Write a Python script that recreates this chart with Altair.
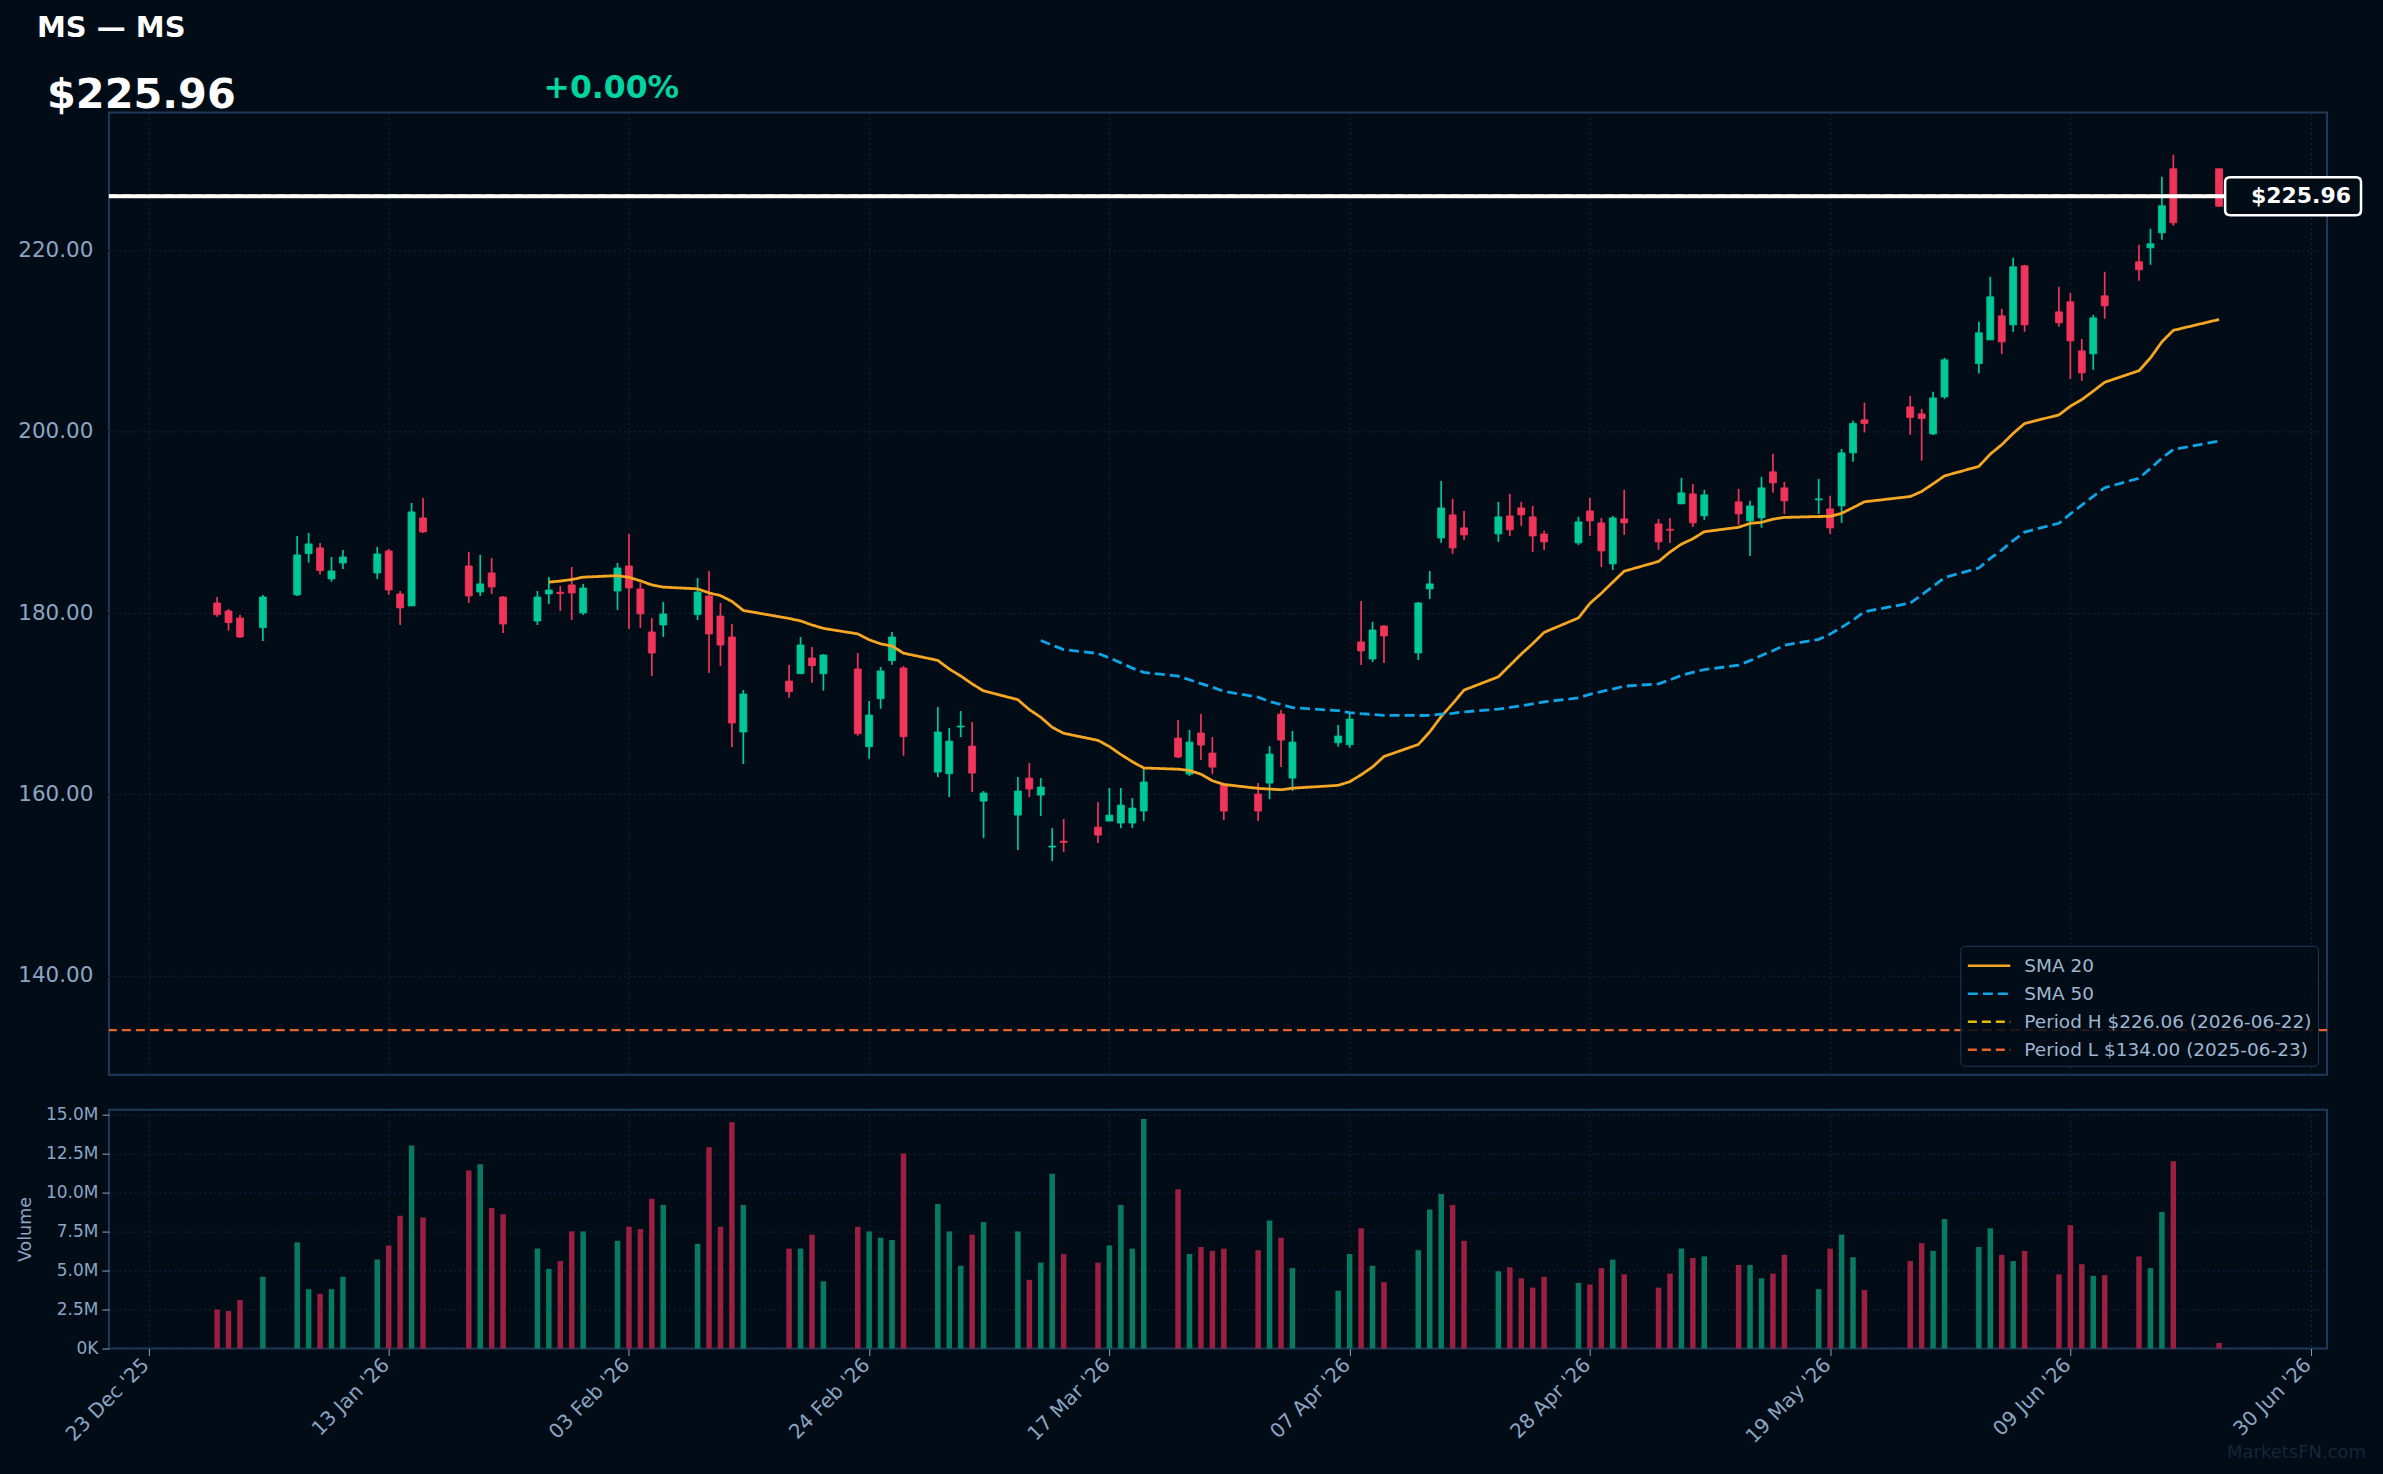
import altair as alt
import pandas as pd

# ---------------- data ----------------
dates = [
    "2025-12-29", "2025-12-30", "2025-12-31", "2026-01-02",
    "2026-01-05", "2026-01-06", "2026-01-07", "2026-01-08", "2026-01-09",
    "2026-01-12", "2026-01-13", "2026-01-14", "2026-01-15", "2026-01-16",
    "2026-01-20", "2026-01-21", "2026-01-22", "2026-01-23",
    "2026-01-26", "2026-01-27", "2026-01-28", "2026-01-29", "2026-01-30",
    "2026-02-02", "2026-02-03", "2026-02-04", "2026-02-05", "2026-02-06",
    "2026-02-09", "2026-02-10", "2026-02-11", "2026-02-12", "2026-02-13",
    "2026-02-17", "2026-02-18", "2026-02-19", "2026-02-20",
    "2026-02-23", "2026-02-24", "2026-02-25", "2026-02-26", "2026-02-27",
    "2026-03-02", "2026-03-03", "2026-03-04", "2026-03-05", "2026-03-06",
    "2026-03-09", "2026-03-10", "2026-03-11", "2026-03-12", "2026-03-13",
    "2026-03-16", "2026-03-17", "2026-03-18", "2026-03-19", "2026-03-20",
    "2026-03-23", "2026-03-24", "2026-03-25", "2026-03-26", "2026-03-27",
    "2026-03-30", "2026-03-31", "2026-04-01", "2026-04-02",
    "2026-04-06", "2026-04-07", "2026-04-08", "2026-04-09", "2026-04-10",
    "2026-04-13", "2026-04-14", "2026-04-15", "2026-04-16", "2026-04-17",
    "2026-04-20", "2026-04-21", "2026-04-22", "2026-04-23", "2026-04-24",
    "2026-04-27", "2026-04-28", "2026-04-29", "2026-04-30", "2026-05-01",
    "2026-05-04", "2026-05-05", "2026-05-06", "2026-05-07", "2026-05-08",
    "2026-05-11", "2026-05-12", "2026-05-13", "2026-05-14", "2026-05-15",
    "2026-05-18", "2026-05-19", "2026-05-20", "2026-05-21", "2026-05-22",
    "2026-05-26", "2026-05-27", "2026-05-28", "2026-05-29",
    "2026-06-01", "2026-06-02", "2026-06-03", "2026-06-04", "2026-06-05",
    "2026-06-08", "2026-06-09", "2026-06-10", "2026-06-11", "2026-06-12",
    "2026-06-15", "2026-06-16", "2026-06-17", "2026-06-18",
    "2026-06-22",
]
opens = [
    181.11, 180.23, 179.45, 178.39,
    182.00, 186.55, 187.18, 183.76, 185.52,
    184.42, 186.85, 182.10, 180.78, 190.49,
    185.19, 182.32, 184.42, 181.77,
    179.12, 182.10, 182.29, 183.10, 180.01,
    182.43, 185.19, 182.65, 177.91, 178.68,
    179.82, 181.88, 179.67, 177.36, 166.88,
    172.50, 173.31, 175.04, 173.31,
    173.83, 165.26, 170.55, 174.75, 173.94,
    162.46, 162.28, 167.43, 165.33, 159.26,
    157.72, 161.80, 159.92, 154.19, 154.85,
    156.39, 157.06, 156.84, 156.84, 158.16,
    166.21, 162.24, 166.77, 164.56, 161.03,
    160.04, 161.25, 168.86, 161.80,
    165.70, 165.48, 176.81, 174.93, 178.57,
    175.60, 182.66, 188.28, 190.82, 189.39,
    188.72, 190.71, 191.59, 190.60, 188.72,
    187.73, 191.26, 189.94, 185.42, 190.38,
    189.83, 189.24, 192.04, 193.14, 190.71,
    192.26, 190.16, 190.49, 195.57, 193.80,
    192.48, 191.48, 191.81, 197.66, 201.30,
    202.73, 201.96, 199.75, 203.83,
    207.51, 210.12, 212.77, 211.78, 218.29,
    213.21, 214.32, 208.91, 208.58, 214.98,
    218.73, 220.27, 221.93, 228.99,
    228.99,
]
highs = [
    181.77, 180.45, 179.79, 182.00,
    188.50, 188.83, 187.73, 186.18, 186.96,
    187.29, 187.07, 182.43, 192.14, 192.69,
    186.74, 186.41, 186.07, 181.88,
    182.43, 183.98, 182.98, 185.08, 183.21,
    185.52, 188.72, 183.32, 179.45, 181.22,
    183.87, 184.64, 181.11, 178.79, 171.51,
    174.27, 177.36, 176.26, 175.48,
    175.59, 170.30, 174.05, 177.91, 174.16,
    169.63, 167.32, 169.19, 167.98, 160.37,
    161.91, 163.46, 161.80, 156.28, 157.28,
    159.15, 160.70, 160.70, 159.59, 162.79,
    168.20, 167.10, 168.86, 166.32, 161.14,
    161.25, 165.33, 169.30, 166.99,
    167.65, 168.98, 181.33, 179.02, 178.68,
    181.22, 184.64, 194.57, 192.59, 191.26,
    192.26, 193.14, 192.26, 191.81, 189.06,
    190.60, 192.70, 190.49, 190.71, 193.58,
    190.38, 190.49, 194.90, 194.24, 193.58,
    193.69, 192.37, 195.01, 197.55, 194.46,
    194.79, 192.92, 198.10, 201.20, 203.20,
    203.94, 202.51, 204.39, 208.14,
    212.11, 217.07, 213.54, 219.17, 218.40,
    215.97, 215.31, 210.23, 212.88, 217.63,
    220.60, 222.37, 228.11, 230.53,
    229.00,
]
lows = [
    179.60, 178.06, 177.25, 176.92,
    181.88, 185.56, 184.24, 183.46, 184.86,
    183.76, 182.00, 178.68, 180.78, 188.83,
    181.11, 181.88, 182.10, 177.80,
    178.68, 181.00, 180.23, 179.23, 179.79,
    180.34, 178.24, 178.35, 173.06, 177.36,
    179.23, 173.39, 174.16, 165.22, 163.35,
    170.66, 173.31, 172.32, 171.44,
    166.47, 163.93, 169.45, 174.30, 164.26,
    161.91, 159.70, 166.32, 160.26, 155.18,
    153.86, 159.70, 157.61, 152.64, 153.64,
    154.63, 157.06, 156.28, 156.28, 157.06,
    164.01, 162.02, 163.79, 162.24, 157.17,
    157.06, 159.48, 163.01, 160.37,
    165.26, 165.15, 174.27, 174.60, 174.49,
    174.82, 181.55, 187.73, 186.52, 188.06,
    187.84, 188.50, 189.61, 186.74, 186.96,
    187.51, 188.50, 185.08, 184.75, 188.61,
    186.96, 187.73, 192.04, 189.50, 190.27,
    189.72, 186.30, 189.39, 193.25, 190.93,
    190.93, 188.72, 189.94, 196.67, 199.90,
    199.64, 196.81, 199.64, 203.61,
    206.41, 210.12, 208.58, 211.01, 211.01,
    211.56, 205.82, 205.60, 206.81, 212.44,
    216.63, 218.40, 221.16, 222.70,
    224.85,
]
closes = [
    179.82, 178.94, 177.36, 181.77,
    186.41, 187.62, 184.68, 184.64, 186.18,
    186.52, 182.54, 180.56, 191.15, 188.94,
    181.88, 183.21, 182.87, 178.79,
    181.77, 182.54, 182.14, 182.21, 182.76,
    184.97, 182.76, 179.90, 175.59, 179.90,
    182.32, 177.69, 176.47, 167.87, 171.07,
    171.33, 176.48, 174.19, 175.37,
    166.69, 168.75, 173.61, 177.36, 166.36,
    166.88, 165.88, 167.54, 162.35, 160.15,
    160.37, 160.59, 160.81, 154.30, 154.70,
    155.51, 157.72, 158.82, 158.49, 161.36,
    164.12, 165.77, 165.44, 163.01, 158.16,
    158.16, 164.45, 165.99, 165.77,
    166.44, 168.31, 175.82, 178.13, 177.47,
    181.11, 183.21, 191.59, 187.18, 188.61,
    190.60, 189.17, 190.82, 188.50, 187.84,
    190.05, 190.16, 186.85, 190.49, 189.94,
    187.84, 189.13, 193.25, 189.94, 193.03,
    190.93, 191.81, 193.80, 194.35, 192.37,
    192.59, 189.39, 197.66, 200.90, 200.90,
    201.55, 201.44, 203.72, 207.92,
    210.90, 214.87, 209.90, 218.18, 211.78,
    212.00, 210.01, 206.48, 212.55, 213.87,
    217.85, 220.72, 224.91, 223.03,
    224.85,
]
volumes_m = [
    2.5, 2.4, 3.1, 4.6,
    6.8, 3.8, 3.5, 3.8, 4.6,
    5.7, 6.6, 8.5, 13.0, 8.4,
    11.4, 11.8, 9.0, 8.6,
    6.4, 5.1, 5.6, 7.5, 7.5,
    6.9, 7.8, 7.65, 9.6, 9.2,
    6.7, 12.9, 7.8, 14.5, 9.2,
    6.4, 6.4, 7.3, 4.3,
    7.8, 7.5, 7.1, 6.95, 12.5,
    9.25, 7.5, 5.3, 7.3, 8.1,
    7.5, 4.4, 5.5, 11.2, 6.05,
    5.5, 6.6, 9.2, 6.4, 14.7,
    10.2, 6.05, 6.5, 6.25, 6.4,
    6.3, 8.2, 7.1, 5.15,
    3.7, 6.05, 7.7, 5.3, 4.25,
    6.3, 8.9, 9.9, 9.2, 6.9,
    4.95, 5.2, 4.5, 3.9, 4.6,
    4.2, 4.1, 5.15, 5.7, 4.75,
    3.9, 4.8, 6.4, 5.8, 5.9,
    5.35, 5.35, 4.5, 4.8, 6.0,
    3.8, 6.4, 7.3, 5.85, 3.75,
    5.6, 6.75, 6.25, 8.3,
    6.5, 7.7, 6.0, 5.6, 6.25,
    4.75, 7.9, 5.4, 4.65, 4.7,
    5.9, 5.15, 8.75, 12.0,
    0.35,
]

ticker_title = "MS — MS"
last_price = 225.96
change_text = "+0.00%"
period_high = 226.06
period_low = 134.00
series_names = [
    "SMA 20",
    "SMA 50",
    "Period H $226.06 (2026-06-22)",
    "Period L $134.00 (2025-06-23)",
]
tick_dates = [
    (2025, 12, 23), (2026, 1, 13), (2026, 2, 3), (2026, 2, 24), (2026, 3, 17),
    (2026, 4, 7), (2026, 4, 28), (2026, 5, 19), (2026, 6, 9), (2026, 6, 30),
]
price_ticks = [140, 160, 180, 200, 220]
volume_ticks = [0, 2.5, 5, 7.5, 10, 12.5, 15]
watermark = "MarketsFN.com"

# ---------------- styling ----------------
BG = "#020c17"
FRAME = "#1e3a5a"
GRID = "#17273a"
LABEL = "#8ca5c3"
LEGEND_LABEL = "#9fb6d2"
UP = "#00c896"
DOWN = "#f0345a"
VOL_UP = "#087a5f"
VOL_DOWN = "#9b2040"
SERIES_COLORS = ["#f5a623", "#0ea5e9", "#e5bd00", "#e8622c"]
SERIES_DASH = [[1, 0], [10, 5], [9, 5], [9, 5]]
FONT = "DejaVu Sans"

W = 2220
H_PRICE = 963
H_VOL = 239

df = pd.DataFrame({
    "date": dates, "open": opens, "high": highs, "low": lows,
    "close": closes, "volume": volumes_m,
})

x_domain = [
    alt.DateTime(year=2025, month=12, date=19, hours=23, minutes=30, utc=True),
    alt.DateTime(year=2026, month=7, date=1, utc=True),
]
tick_vals = [alt.DateTime(year=y, month=m, date=d, utc=True) for (y, m, d) in tick_dates]
x_scale = alt.Scale(type="utc", domain=x_domain, nice=False)

y_price_scale = alt.Scale(domain=[129.09, 235.19], nice=False, zero=False)
y_vol_scale = alt.Scale(domain=[0, 15.3], nice=False, zero=True)

x_price = alt.X(
    "date:T", scale=x_scale, title=None,
    axis=alt.Axis(values=tick_vals, labels=False, ticks=False, domain=False,
                  grid=True, gridColor=GRID, gridDash=[2, 3], gridWidth=1),
)

candle_color = alt.when(alt.datum.close >= alt.datum.open).then(alt.value(UP)).otherwise(alt.value(DOWN))
vol_color = alt.when(alt.datum.close >= alt.datum.open).then(alt.value(VOL_UP)).otherwise(alt.value(VOL_DOWN))

base = alt.Chart(df)

y_axis_price = alt.Axis(
    values=price_ticks, format=".2f", title=None, grid=True, gridColor=GRID,
    gridDash=[2, 3], gridWidth=1, tickSize=7, tickColor="#05080c", labelPadding=9,
    labelFontSize=21.5, labelColor=LABEL, labelFont=FONT, domain=False,
)

wicks = base.mark_rule(strokeWidth=1.7).encode(
    x=x_price,
    y=alt.Y("low:Q", scale=y_price_scale, axis=y_axis_price),
    y2="high:Q",
    color=candle_color,
)
bodies = base.mark_bar(size=7, strokeWidth=0.8).encode(
    x=alt.X("date:T", scale=x_scale),
    y=alt.Y("open:Q", scale=y_price_scale),
    y2="close:Q",
    color=candle_color,
    stroke=candle_color,
)

legend = alt.Legend(
    title=None, orient="bottom-right", offset=9,
    symbolType="M-1,0 L2.4,0", symbolSize=625, symbolStrokeWidth=2.6,
    symbolFillColor="transparent",
    labelFontSize=18.5, labelColor=LEGEND_LABEL, labelFont=FONT, labelOffset=30,
    labelLimit=500, rowPadding=4, padding=6,
    fillColor="rgba(2,12,23,0.88)", strokeColor=FRAME, cornerRadius=4,
)
color_enc = alt.Color("series:N", scale=alt.Scale(domain=series_names, range=SERIES_COLORS), legend=legend)
dash_enc = alt.StrokeDash("series:N", scale=alt.Scale(domain=series_names, range=SERIES_DASH), legend=legend)

period_df = pd.DataFrame({"series": series_names[2:], "value": [period_high, period_low]})
period_rules = alt.Chart(period_df).mark_rule(strokeWidth=2.2).encode(
    y=alt.Y("value:Q", scale=y_price_scale),
    color=color_enc,
    strokeDash=dash_enc,
)

sort_date = [alt.SortField("date")]
sma = (
    base.transform_window(rn="row_number()", sort=sort_date)
    .transform_window(s20="mean(close)", frame=[-19, 0], sort=sort_date)
    .transform_window(s50="mean(close)", frame=[-49, 0], sort=sort_date)
    .transform_calculate(**{
        "SMA 20": "datum.rn >= 20 ? datum.s20 : null",
        "SMA 50": "datum.rn >= 50 ? datum.s50 : null",
    })
    .transform_fold(["SMA 20", "SMA 50"], as_=["series", "value"])
    .transform_filter("datum.value != null")
    .mark_line(strokeWidth=2.8)
    .encode(
        x=alt.X("date:T", scale=x_scale),
        y=alt.Y("value:Q", scale=y_price_scale),
        color=color_enc,
        strokeDash=dash_enc,
    )
)

last_df = pd.DataFrame({"p": [last_price], "label": [f"${last_price:.2f}"]})
last_line = alt.Chart(last_df).mark_rule(color="white", strokeWidth=4).encode(
    y=alt.Y("p:Q", scale=y_price_scale)
)
BOX = ("M-0.926,-0.279 L0.926,-0.279 Q1,-0.279 1,-0.206 L1,0.206 Q1,0.279 0.926,0.279 "
       "L-0.926,0.279 Q-1,0.279 -1,0.206 L-1,-0.206 Q-1,-0.279 -0.926,-0.279 Z")
last_box = alt.Chart(last_df).mark_point(
    shape=BOX, size=136 * 136, filled=True, fill=BG, stroke="white",
    strokeWidth=2.5, opacity=1, fillOpacity=1, strokeOpacity=1,
).encode(x=alt.value(W - 34), y=alt.Y("p:Q", scale=y_price_scale))
last_text = alt.Chart(last_df).mark_text(
    align="right", baseline="middle", font=FONT, fontWeight="bold", fontSize=22, color="white",
).encode(x=alt.value(W + 24), y=alt.Y("p:Q", scale=y_price_scale), text="label:N")

hdr_df = pd.DataFrame({"title": [ticker_title], "price": [f"${last_price:.2f}"], "chg": [change_text]})
hdr_title = alt.Chart(hdr_df).mark_text(
    align="left", baseline="alphabetic", font=FONT, fontWeight="bold", fontSize=29, color="white"
).encode(x=alt.value(-72), y=alt.value(-76), text="title:N")
hdr_price = alt.Chart(hdr_df).mark_text(
    align="left", baseline="alphabetic", font=FONT, fontWeight="bold", fontSize=41.5, color="white"
).encode(x=alt.value(-62), y=alt.value(-5), text="price:N")
hdr_chg = alt.Chart(hdr_df).mark_text(
    align="left", baseline="alphabetic", font=FONT, fontWeight="bold", fontSize=31.5, color="#00d4a0"
).encode(x=alt.value(435), y=alt.value(-15), text="chg:N")

price_panel = alt.layer(
    wicks, period_rules, bodies, sma, last_line, last_box, last_text,
    hdr_title, hdr_price, hdr_chg,
).properties(width=W, height=H_PRICE)

vol_axis_y = alt.Axis(
    values=volume_ticks,
    labelExpr="datum.value == 0 ? '0K' : format(datum.value, '.1f') + 'M'",
    title="Volume", titleFontSize=17.5, titleColor=LABEL, titleFont=FONT,
    titleFontWeight="normal", titlePadding=11,
    grid=True, gridColor=GRID, gridDash=[2, 3], gridWidth=1,
    tickSize=7, tickColor=LABEL, labelPadding=4, labelFontSize=17,
    labelColor=LABEL, labelFont=FONT, domain=False,
)
vol_axis_x = alt.Axis(
    values=tick_vals, labelExpr="utcFormat(datum.value, \"%d %b '%y\")", labelAngle=315,
    labelAlign="right", labelBaseline="middle", labelFontSize=20, labelColor=LABEL,
    labelFont=FONT, labelPadding=6, labelOffset=-3, tickSize=7, tickColor=LABEL, domain=False,
    grid=True, gridColor=GRID, gridDash=[2, 3], gridWidth=1, title=None,
    labelOverlap=False,
)
vol_bars = alt.Chart(df).mark_bar(size=5.5).encode(
    x=alt.X("date:T", scale=x_scale, axis=vol_axis_x),
    y=alt.Y("volume:Q", scale=y_vol_scale, axis=vol_axis_y),
    color=vol_color,
)
wm_df = pd.DataFrame({"t": [watermark]})
wm = alt.Chart(wm_df).mark_text(
    align="right", baseline="alphabetic", font=FONT, fontSize=18, color="#15263a"
).encode(x=alt.value(W + 39), y=alt.value(349), text="t:N")

vol_panel = alt.layer(vol_bars, wm).properties(width=W, height=H_VOL)

chart = (
    alt.vconcat(price_panel, vol_panel, spacing=28)
    .resolve_scale(x="independent", y="independent", color="independent", strokeDash="independent")
    .configure(background=BG, padding={"left": 15, "top": 12, "right": 16, "bottom": 13})
    .configure_view(stroke=FRAME, strokeWidth=2)
)

chart.save("out.html", embed_options={"renderer": "svg", "actions": False})
